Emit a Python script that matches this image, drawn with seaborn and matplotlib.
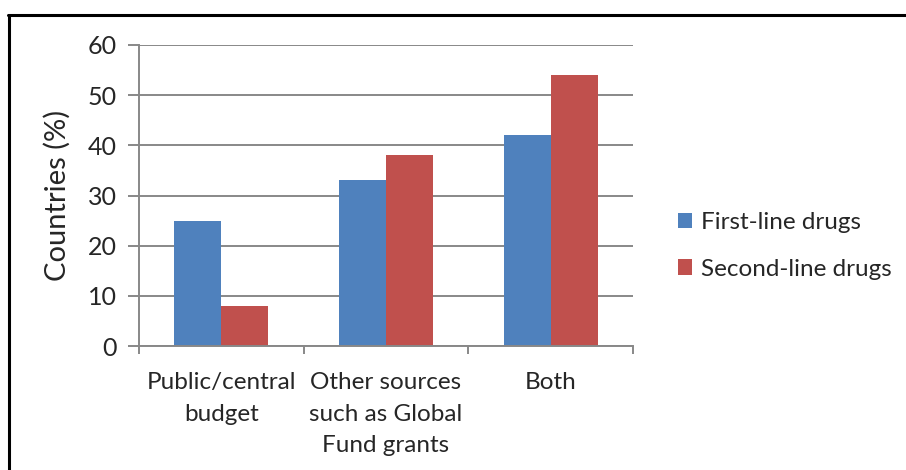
import matplotlib
matplotlib.use("Agg")
import matplotlib.pyplot as plt
from matplotlib.lines import Line2D
from matplotlib.patches import Patch
import seaborn as sns
import pandas as pd

categories = ["Public/central\nbudget", "Other sources\nsuch as Global\nFund grants", "Both"]
first_line = [25, 33, 42]
second_line = [8, 38, 54]
series_names = ["First-line drugs", "Second-line drugs"]
colors = ["#4F81BD", "#C0504D"]
yticks = [0, 10, 20, 30, 40, 50, 60]

sns.set_theme(style="white")
plt.rcParams['font.family'] = ['Lato', 'DejaVu Sans']

df = pd.DataFrame({
    "Category": categories * 2,
    "Value": first_line + second_line,
    "Series": [series_names[0]] * 3 + [series_names[1]] * 3,
})

fig = plt.figure(figsize=(9.06, 4.70), dpi=100)
ax = fig.add_axes([139/906, (470-346)/470, (633-139)/906, (346-45)/470])

sns.barplot(data=df, x="Category", y="Value", hue="Series", palette=colors,
            width=0.57, ax=ax, saturation=1, legend=False, linewidth=0)

FS = 17.5
ax.set_ylim(0, 60)
ax.set_xlim(-0.5, 2.5)
ax.set_yticks(yticks)
ax.set_yticklabels([str(t) for t in yticks], fontsize=18)
ax.yaxis.grid(True, color="#888888", linewidth=1.4)
ax.set_axisbelow(True)
for s in ["top", "right"]:
    ax.spines[s].set_visible(False)
for s in ["left", "bottom"]:
    ax.spines[s].set_color("#888888")
    ax.spines[s].set_linewidth(1.4)
ax.tick_params(axis="y", length=8, width=1.4, color="#888888", pad=8, left=True)
ax.set_xticks([0, 1, 2])
ax.set_xticklabels(categories, fontsize=FS, linespacing=1.62)
ax.tick_params(axis="x", length=0, pad=19)
ax.set_xticks([-0.5, 0.5, 1.5, 2.5], minor=True)
ax.tick_params(axis="x", which="minor", length=6, width=1.4, color="#888888", bottom=True)
ax.set_xlabel("")
ax.set_ylabel("Countries (%)", fontsize=21, labelpad=12)

handles = [Patch(facecolor=c, edgecolor="none") for c in colors]
leg = fig.legend(handles, series_names, loc="center left", bbox_to_anchor=(656/906, 1 - 246/470),
                 frameon=False, fontsize=FS, handlelength=0.6, handleheight=0.6,
                 handletextpad=0.35, labelspacing=1.05)

fig.add_artist(Line2D([8/906, 1.0], [1 - 15/470, 1 - 15/470], color="black", linewidth=2.2,
                      transform=fig.transFigure))
fig.add_artist(Line2D([9/906, 9/906], [0, 1 - 15/470], color="black", linewidth=2.2,
                      transform=fig.transFigure))

fig.savefig("out.png", dpi=100, facecolor="white")
